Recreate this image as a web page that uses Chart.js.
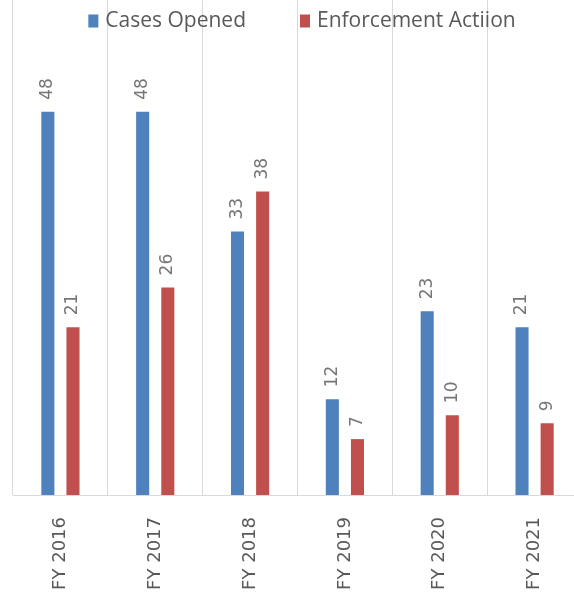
<!DOCTYPE html>
<html>
<head>
<meta charset="utf-8">
<script src="https://cdn.jsdelivr.net/npm/chart.js@4.4.0/dist/chart.umd.min.js"></script>
<style>
  html, body { margin: 0; padding: 0; background: #fff; overflow: hidden; }
  #wrap { width: 583px; height: 594px; }
</style>
</head>
<body>
<div id="wrap"><canvas id="chart" width="583" height="594"></canvas></div>
<script>
const years = ["FY 2016", "FY 2017", "FY 2018", "FY 2019", "FY 2020", "FY 2021"];
const casesOpened = [48, 48, 33, 12, 23, 21];
const enforcementActions = [21, 26, 38, 7, 10, 9];

// rotated value labels above each bar
const valueLabels = {
  id: "valueLabels",
  afterDatasetsDraw(chart) {
    const ctx = chart.ctx;
    chart.data.datasets.forEach((ds, i) => {
      const meta = chart.getDatasetMeta(i);
      meta.data.forEach((bar, j) => {
        ctx.save();
        ctx.translate(bar.x, bar.y - 12);
        ctx.rotate(-Math.PI / 2);
        ctx.font = "17px 'DejaVu Sans'";
        ctx.fillStyle = "#767676";
        ctx.textAlign = "left";
        ctx.textBaseline = "middle";
        ctx.fillText(ds.data[j], 0, 0);
        ctx.restore();
      });
    });
  }
};

// legend drawn over the top of the plot, like Excel does
const topLegend = {
  id: "topLegend",
  afterDraw(chart) {
    const ctx = chart.ctx;
    const boxW = 10, boxH = 13, gap = 7, spacing = 54;
    ctx.save();
    ctx.font = "21px 'Open Sans'";
    const items = chart.data.datasets.map(ds => ({
      text: ds.label,
      color: ds.backgroundColor,
      w: ctx.measureText(ds.label).width
    }));
    let total = 0;
    items.forEach((it, i) => {
      total += boxW + gap + it.w + (i < items.length - 1 ? spacing : 0);
    });
    let x = 302 - total / 2;
    const cy = 21;
    items.forEach(it => {
      ctx.fillStyle = it.color;
      ctx.fillRect(x, cy - boxH / 2, boxW, boxH);
      x += boxW + gap;
      ctx.fillStyle = "#595959";
      ctx.textAlign = "left";
      ctx.textBaseline = "middle";
      ctx.fillText(it.text, x, cy);
      x += it.w + spacing;
    });
    ctx.restore();
  }
};

new Chart(document.getElementById("chart"), {
  type: "bar",
  data: {
    labels: years,
    datasets: [
      {
        label: "Cases Opened",
        data: casesOpened,
        backgroundColor: "#4F81BD",
        barPercentage: 0.52,
        categoryPercentage: 0.53
      },
      {
        label: "Enforcement Actiion",
        data: enforcementActions,
        backgroundColor: "#C0504D",
        barPercentage: 0.52,
        categoryPercentage: 0.53
      }
    ]
  },
  options: {
    responsive: false,
    animation: false,
    layout: { padding: { left: 13, right: 1, top: 0, bottom: 0 } },
    plugins: {
      tooltip: { enabled: false },
      legend: { display: false }
    },
    scales: {
      x: {
        grid: { color: "#d9d9d9", drawTicks: false },
        border: { color: "#d9d9d9" },
        ticks: {
          minRotation: 90,
          maxRotation: 90,
          padding: 22,
          color: "#595959",
          font: { family: "'DejaVu Sans'", size: 18 }
        },
        afterFit(scale) { scale.height = 99; }
      },
      y: {
        display: false,
        min: 0,
        max: 62
      }
    }
  },
  plugins: [valueLabels, topLegend]
});
</script>
</body>
</html>
